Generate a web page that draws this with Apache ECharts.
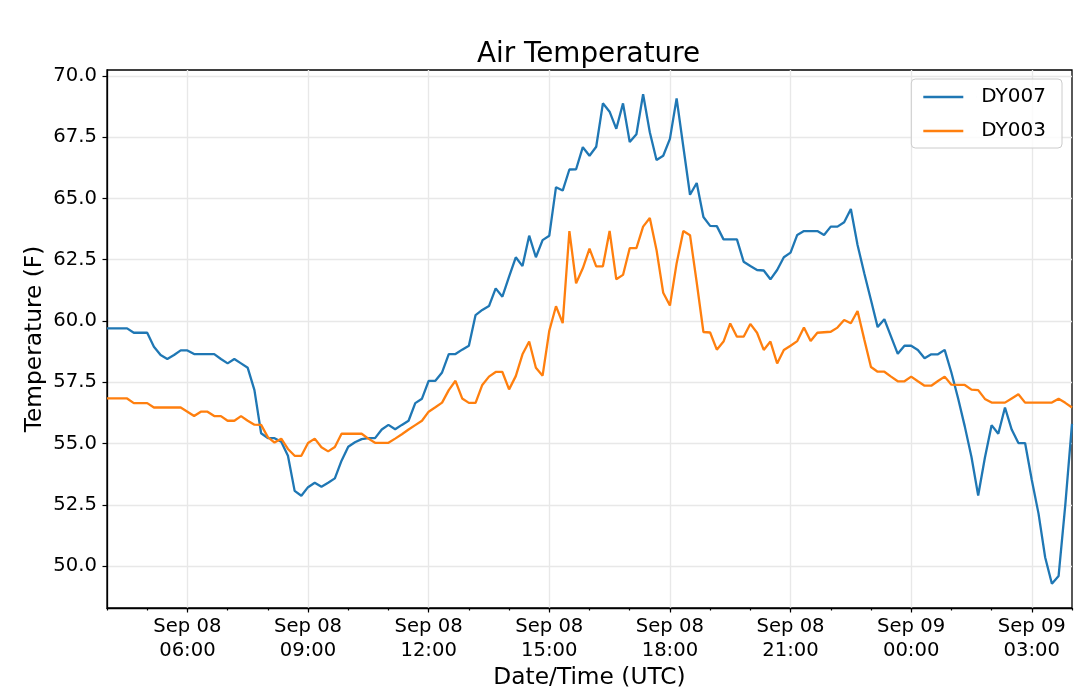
<!DOCTYPE html>
<html>
<head>
<meta charset="utf-8">
<script src="https://cdn.jsdelivr.net/npm/echarts@6/dist/echarts.min.js"></script>
<style>
  html, body { margin: 0; padding: 0; background: #fff; }
  #chart { width: 1080px; height: 688px; }
</style>
</head>
<body>
<div id="chart"></div>
<script>
  // 10 minute readings, Sep 08 04:00 -> Sep 09 04:00 (UTC)
  const dy007 = [
    59.7, 59.7, 59.7, 59.7, 59.52, 59.52, 59.52, 58.95, 58.61, 58.45,
    58.61, 58.8, 58.8, 58.65, 58.65, 58.65, 58.65, 58.45, 58.27, 58.45,
    58.27, 58.09, 57.18, 55.42, 55.22, 55.22, 55.07, 54.5, 53.07, 52.87,
    53.22, 53.4, 53.24, 53.4, 53.58, 54.3, 54.87, 55.05, 55.18, 55.22,
    55.22, 55.57, 55.76, 55.58, 55.76, 55.93, 56.65, 56.83, 57.56, 57.56,
    57.9, 58.65, 58.65, 58.83, 58.99, 60.24, 60.45, 60.61, 61.33, 60.99,
    61.81, 62.6, 62.24, 63.48, 62.6, 63.3, 63.48, 65.46, 65.32, 66.18,
    66.19, 67.09, 66.74, 67.11, 68.88, 68.54, 67.84, 68.88, 67.3, 67.62,
    69.25, 67.7, 66.57, 66.74, 67.43, 69.08, 67.11, 65.15, 65.63, 64.24,
    63.88, 63.87, 63.33, 63.33, 63.33, 62.42, 62.24, 62.08, 62.06, 61.7,
    62.08, 62.6, 62.79, 63.51, 63.67, 63.67, 63.67, 63.51, 63.85, 63.85,
    64.03, 64.57, 63.1, 61.95, 60.86, 59.75, 60.07, 59.36, 58.66, 58.99,
    58.99, 58.82, 58.48, 58.64, 58.64, 58.82, 57.9, 56.85, 55.7, 54.45,
    52.88, 54.42, 55.75, 55.4, 56.47, 55.57, 55.02, 55.02, 53.51, 52.15,
    50.35, 49.28, 49.6, 52.5, 55.8
  ]
  const dy003 = [
    56.84, 56.84, 56.84, 56.84, 56.65, 56.65, 56.65, 56.47, 56.47, 56.47,
    56.47, 56.47, 56.3, 56.12, 56.3, 56.3, 56.12, 56.12, 55.93, 55.93,
    56.12, 55.93, 55.77, 55.76, 55.26, 55.04, 55.2, 54.78, 54.5, 54.5,
    55.02, 55.2, 54.85, 54.68, 54.86, 55.4, 55.4, 55.4, 55.4, 55.2,
    55.03, 55.03, 55.03, 55.2, 55.38, 55.57, 55.75, 55.93, 56.3, 56.48,
    56.67, 57.18, 57.56, 56.84, 56.66, 56.66, 57.39, 57.73, 57.92, 57.92,
    57.21, 57.75, 58.64, 59.16, 58.09, 57.77, 59.6, 60.6, 59.91, 63.67,
    61.54, 62.15, 62.95, 62.23, 62.23, 63.67, 61.7, 61.88, 62.97, 62.97,
    63.85, 64.2, 62.9, 61.15, 60.63, 62.35, 63.67, 63.5, 61.57, 59.55,
    59.53, 58.83, 59.16, 59.9, 59.36, 59.36, 59.88, 59.52, 58.82, 59.16,
    58.27, 58.82, 58.99, 59.18, 59.73, 59.18, 59.52, 59.54, 59.56, 59.73,
    60.04, 59.91, 60.41, 59.25, 58.12, 57.93, 57.93, 57.73, 57.54, 57.54,
    57.73, 57.54, 57.36, 57.36, 57.55, 57.73, 57.4, 57.39, 57.39, 57.2,
    57.18, 56.82, 56.67, 56.67, 56.67, 56.84, 57.01, 56.67, 56.67, 56.67,
    56.67, 56.67, 56.83, 56.66, 56.47
  ]
  const seriesNames = ['DY007', 'DY003']
  const yTicks = [50, 52.5, 55, 57.5, 60, 62.5, 65, 67.5, 70]

  // time categories, one per reading
  const times = []
  for (let i = 0; i < dy007.length; i++) {
    let m = 4 * 60 + i * 10
    let day = m >= 1440 ? 'Sep 09' : 'Sep 08'
    m = m % 1440
    let hh = String(Math.floor(m / 60)).padStart(2, '0')
    let mm = String(m % 60).padStart(2, '0')
    times.push(`${day} ${hh}:${mm}`)
  }

  const font = 'DejaVu Sans'
  const isHour = (i) => i % 6 === 0
  const isMajor = (i) => i % 18 === 12
  // 40px line sample + empty space so the label sits further right
  const lineIcon = 'path://M0,0H40V2.4H0Z M53,0H53.01V2.4H53Z'

  let chart = echarts.init(document.getElementById('chart'), null, {renderer: 'canvas'})
  let option = {
    animation: false,
    backgroundColor: '#fff',
    title: {
      text: 'Air Temperature',
      left: 472, top: 36,
      textStyle: {fontFamily: font, fontSize: 27.8, fontWeight: 'normal', color: '#000'}
    },
    legend: {
      data: seriesNames.map(n => ({name: n, icon: lineIcon})),
      orient: 'vertical',
      right: 18, top: 79,
      itemWidth: 53, itemHeight: 14, itemGap: 14,
      padding: [8, 16, 7, 12],
      backgroundColor: 'rgba(255,255,255,0.8)',
      borderColor: '#cccccc', borderWidth: 1, borderRadius: 4,
      textStyle: {fontFamily: font, fontSize: 20, color: '#000', lineHeight: 20}
    },
    grid: {
      left: 107, top: 70, width: 965, height: 538,
      outerBoundsMode: 'none', containLabel: false,
      show: true, borderColor: '#000', borderWidth: 1.3
    },
    xAxis: [
      {
        // hourly minor ticks
        type: 'category', data: times, boundaryGap: false,
        axisLine: {lineStyle: {color: '#000', width: 1.3}},
        axisTick: {interval: isHour, length: 2.5, lineStyle: {color: '#000', width: 1.2}},
        axisLabel: {show: false},
        splitLine: {show: false}
      },
      {
        // 3 hourly major ticks + labels + grid
        type: 'category', data: times, boundaryGap: false, position: 'bottom',
        name: 'Date/Time (UTC)', nameLocation: 'middle', nameGap: 58,
        nameMoveOverlap: false,
        nameTextStyle: {fontFamily: font, fontSize: 23.3, color: '#000'},
        axisLine: {show: false},
        axisTick: {interval: isMajor, length: 4.5, lineStyle: {color: '#000', width: 1.2}},
        axisLabel: {
          interval: isMajor, margin: 7,
          fontFamily: font, fontSize: 19.6, lineHeight: 24, color: '#000',
          formatter: (v) => v.slice(0, 6) + '\n' + v.slice(7)
        },
        splitLine: {show: true, interval: isMajor, lineStyle: {color: '#e8e8e8', width: 1.4}}
      }
    ],
    yAxis: {
      type: 'value', min: 48.29, max: 70.24,
      name: 'Temperature (F)', nameLocation: 'middle', nameGap: 61,
      nameMoveOverlap: false,
      nameTextStyle: {fontFamily: font, fontSize: 23.3, color: '#000'},
      axisLine: {show: true, lineStyle: {color: '#000', width: 1.3}},
      axisTick: {show: true, length: 4.5, customValues: yTicks, lineStyle: {color: '#000', width: 1.2}},
      axisLabel: {
        customValues: yTicks, margin: 10,
        fontFamily: font, fontSize: 19.6, color: '#000',
        formatter: (v) => v.toFixed(1)
      },
      splitLine: {show: true, lineStyle: {color: '#e8e8e8', width: 1.4}}
    },
    series: [
      {
        name: seriesNames[0], type: 'line', data: dy007, xAxisIndex: 0,
        symbol: 'none', color: '#1f77b4', lineStyle: {width: 2.3, color: '#1f77b4'}
      },
      {
        name: seriesNames[1], type: 'line', data: dy003, xAxisIndex: 0,
        symbol: 'none', color: '#ff7f0e', lineStyle: {width: 2.3, color: '#ff7f0e'}
      }
    ]
  }
  chart.setOption(option)
</script>
</body>
</html>
